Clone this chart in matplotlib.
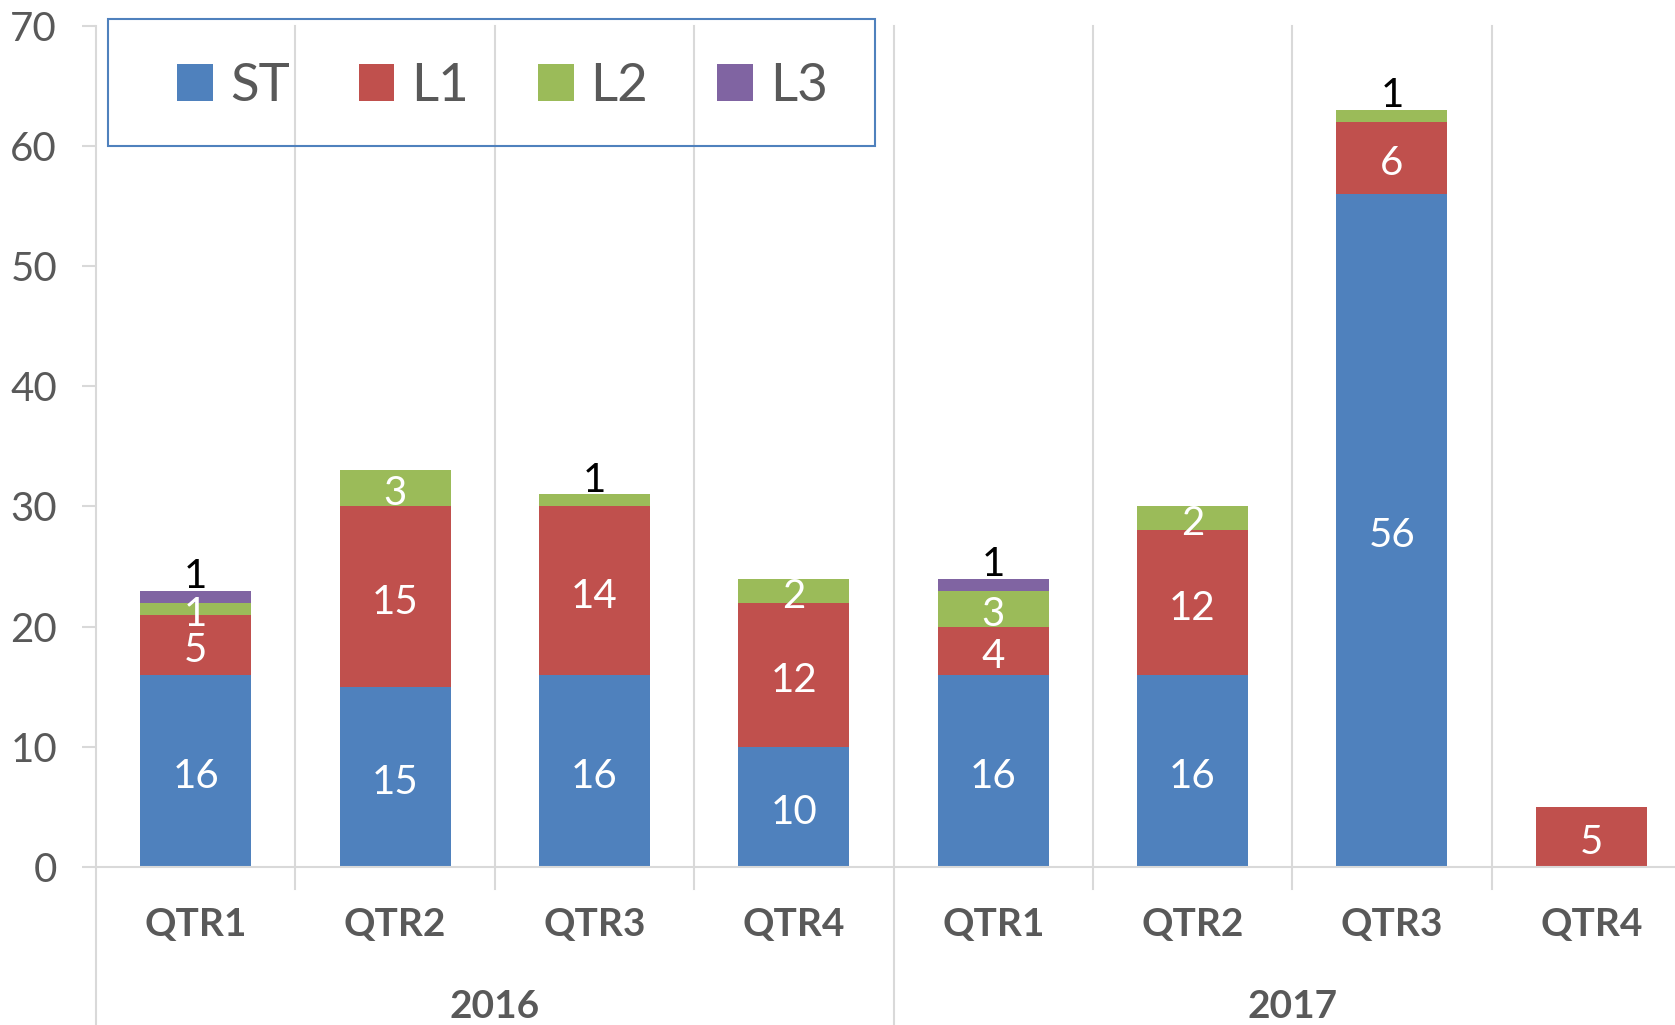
import matplotlib
matplotlib.use("Agg")
import matplotlib.pyplot as plt
from matplotlib.patches import Rectangle, Patch
import numpy as np

plt.rcParams['font.family'] = ['Lato', 'DejaVu Sans']

quarters = ["QTR1", "QTR2", "QTR3", "QTR4", "QTR1", "QTR2", "QTR3", "QTR4"]
years = ["2016", "2017"]
series_names = ["ST", "L1", "L2", "L3"]
st = [16, 15, 16, 10, 16, 16, 56, 0]
l1 = [5, 15, 14, 12, 4, 12, 6, 5]
l2 = [1, 3, 1, 2, 3, 2, 1, 0]
l3 = [1, 0, 0, 0, 1, 0, 0, 0]
# labels drawn above the bar (segment too thin): (category index, series index)
outside_labels = [(0, 3), (2, 2), (4, 3), (6, 2)]

colors = ["#4F81BD", "#C0504D", "#9BBB59", "#8064A2"]
gray_text = "#595959"
grid_col = "#D9D9D9"

W, H = 1675, 1025
fig = plt.figure(figsize=(W / 100, H / 100), dpi=100)
ax_left, ax_right = 96, 1691
ax_top, ax_bot = 25.6, 867
ax = fig.add_axes([ax_left / W, (H - ax_bot) / H, (ax_right - ax_left) / W, (ax_bot - ax_top) / H])

series = [st, l1, l2, l3]
x = np.arange(len(quarters))
bottom = np.zeros(len(quarters))
bar_w = 0.557
for vals, c in zip(series, colors):
    vals = np.array(vals, dtype=float)
    ax.bar(x, vals, bar_w, bottom=bottom, color=c, zorder=3, linewidth=0)
    bottom += vals

# data labels
bottom = np.zeros(len(quarters))
totals = np.sum(np.array(series, dtype=float), axis=0)
for si, vals in enumerate(series):
    for i, v in enumerate(vals):
        if v > 0:
            if (i, si) in outside_labels:
                ax.annotate(str(v), (i, totals[i]), xytext=(0, -3), textcoords='offset points',
                            ha='center', va='bottom', color='black', fontsize=29, zorder=5)
            else:
                ax.annotate(str(v), (i, bottom[i] + v / 2), xytext=(0, -4),
                            textcoords='offset points', ha='center', va='center',
                            color='white', fontsize=29, zorder=5)
        bottom[i] += v

ax.set_xlim(-0.5, len(quarters) - 0.5)
ax.set_ylim(0, 70)
ax.set_yticks(np.arange(0, 71, 10))
ax.tick_params(axis='y', length=10, color=grid_col, width=1.5, labelsize=29,
               labelcolor=gray_text, pad=18)
ax.set_xticks(x)
ax.set_xticklabels(quarters, fontsize=28, fontweight='bold', color=gray_text)
ax.tick_params(axis='x', length=0, pad=29)

for s in ['top', 'right', 'left']:
    ax.spines[s].set_visible(False)
ax.spines['bottom'].set_color(grid_col)
ax.spines['bottom'].set_linewidth(1.5)
ax.spines['bottom'].set_zorder(4)

# vertical category separators
axh = ax_bot - ax_top
for k in range(len(quarters)):
    xb = k - 0.5
    if k % 4 == 0:
        y0 = -(H - ax_bot) / axh
    else:
        y0 = -22 / axh
    ax.plot([xb, xb], [y0, 1], transform=ax.get_xaxis_transform(), color=grid_col,
            lw=1.5, clip_on=False, zorder=1)

# year labels
for j, yr in enumerate(years):
    ax.text(j * 4 + 1.5, -(1007 - ax_bot) / axh, yr, transform=ax.get_xaxis_transform(),
            ha='center', va='center', fontsize=28, fontweight='bold', color=gray_text)

# legend
lx0, ly0, lx1, ly1 = 108, 19, 875, 146
fig.patches.append(Rectangle((lx0 / W, (H - ly1) / H), (lx1 - lx0) / W, (ly1 - ly0) / H,
                             transform=fig.transFigure, fill=False, edgecolor="#4F81BD",
                             linewidth=1.5, zorder=10))
handles = [Patch(facecolor=c, edgecolor='none') for c in colors]
leg = fig.legend(handles, series_names, loc='center', ncol=4,
                 bbox_to_anchor=((lx0 + lx1) / 2 / W + 11 / W, (H - (ly0 + ly1) / 2) / H - 4 / H),
                 frameon=False, fontsize=38, handlelength=0.68, handleheight=0.68,
                 handletextpad=0.32, columnspacing=1.3, labelcolor=gray_text)

fig.savefig("out.png", dpi=100)
